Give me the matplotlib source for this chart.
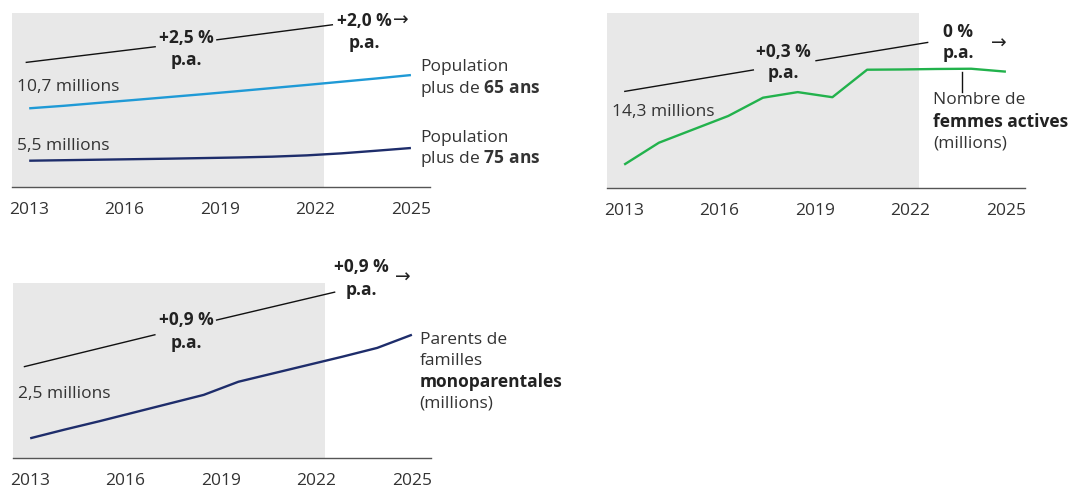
import numpy as np
import matplotlib
matplotlib.use("Agg")
from matplotlib import pyplot as plt

plt.rcParams['font.family'] = ['Open Sans', 'DejaVu Sans']
plt.rcParams['mathtext.fontset'] = 'custom'
plt.rcParams['mathtext.rm'] = 'Open Sans'
plt.rcParams['mathtext.bf'] = 'Open Sans:bold'

# donnees (12 points de 2013 a 2025)
tick_years = [2013, 2016, 2019, 2022, 2025]
tick_labels = ['2013', '2016', '2019', '2022', '2025']

pop_65 = [10.7, 10.95, 11.24, 11.52, 11.81, 12.1, 12.4, 12.71, 13.02, 13.34, 13.66, 14.0]
pop_75 = [5.5, 5.55, 5.6, 5.65, 5.7, 5.76, 5.82, 5.9, 6.03, 6.23, 6.49, 6.76]
femmes_actives = [14.300, 14.390, 14.445, 14.500, 14.575, 14.598, 14.577, 14.690,
                  14.691, 14.693, 14.694, 14.682]
monoparentales = [2.500, 2.522, 2.543, 2.565, 2.587, 2.609, 2.642, 2.663, 2.684,
                  2.705, 2.727, 2.760]

GRAY_BG = '#e8e8e8'
TXT = '#333333'
FS = 12.5
XLIM = (2012.46, 2025.6)
HIST_END = 2022.27


def setup(ax, ylim):
    ax.set_xlim(*XLIM)
    ax.set_ylim(*ylim)
    ax.axvspan(XLIM[0], HIST_END, color=GRAY_BG, lw=0, zorder=0)
    for s in ['top', 'right', 'left']:
        ax.spines[s].set_visible(False)
    ax.spines['bottom'].set_color('#555555')
    ax.spines['bottom'].set_linewidth(1.0)
    ax.set_yticks([])
    ax.set_xticks(tick_years, tick_labels)
    ax.tick_params(axis='x', length=0, pad=10, labelsize=FS, labelcolor=TXT)
    ax.patch.set_alpha(0)


def trend(ax, seg1, seg2, lab1, lab2, arrow):
    ax.plot([seg1[0], seg1[2]], [seg1[1], seg1[3]], color='#111111', lw=1.0, clip_on=False)
    ax.plot([seg2[0], seg2[2]], [seg2[1], seg2[3]], color='#111111', lw=1.0, clip_on=False)
    for (txt, x, y1, y2) in [lab1, lab2]:
        ax.text(x, y1, txt, ha='center', va='center', fontsize=FS, fontweight='bold',
                color='#222222', clip_on=False)
        ax.text(x, y2, 'p.a.', ha='center', va='center', fontsize=FS, fontweight='bold',
                color='#222222', clip_on=False)
    ax.text(arrow[0], arrow[1], '\u2192', ha='center', va='center', fontsize=FS + 1,
            color='#222222', clip_on=False)


fig = plt.figure(figsize=(10.71, 4.89), dpi=100)
xs = np.linspace(2013, 2025, len(pop_65))

# panneau 1 : population agee
ax1 = fig.add_axes([12 / 1071, 1 - 188 / 489, 418 / 1071, 174 / 489])
setup(ax1, (2.89, 20.16))
ax1.plot(xs, pop_65, color='#1f9ad6', lw=1.7, solid_capstyle='butt')
ax1.plot(xs, pop_75, color='#1e2d6b', lw=1.7, solid_capstyle='butt')
trend(ax1, (2012.91, 15.26, 2016.96, 16.81), (2018.90, 17.50, 2022.53, 18.99),
      ('+2,5 %', 2017.93, 17.77, 15.59), ('+2,0 %', 2023.54, 19.48, 17.30), (2024.69, 19.5))
ax1.text(2012.61, 12.88, '10,7 millions', ha='left', va='center', fontsize=FS, color=TXT)
ax1.text(2012.61, 7.08, '5,5 millions', ha='left', va='center', fontsize=FS, color=TXT)
ax1.text(2025.28, 14.86, 'Population', ha='left', va='center', fontsize=FS, color=TXT, clip_on=False)
ax1.text(2025.28, 12.78, r'plus de $\mathbf{65\ ans}$', ha='left', va='center', fontsize=FS,
         color=TXT, clip_on=False)
ax1.text(2025.28, 7.88, 'Population', ha='left', va='center', fontsize=FS, color=TXT, clip_on=False)
ax1.text(2025.28, 5.83, r'plus de $\mathbf{75\ ans}$', ha='left', va='center', fontsize=FS,
         color=TXT, clip_on=False)

# panneau 2 : femmes actives
ax2 = fig.add_axes([607 / 1071, 1 - 189 / 489, 418 / 1071, 175 / 489])
setup(ax2, (14.204, 14.923))
ax2.plot(xs, femmes_actives, color='#22b24c', lw=1.7, solid_capstyle='butt')
trend(ax2, (2013.02, 14.601, 2017.06, 14.689), (2019.03, 14.727, 2022.54, 14.802),
      ('+0,3 %', 2018.0, 14.766, 14.682), ('0 %', 2023.5, 14.850, 14.764), (2024.79, 14.800))
ax2.text(2012.63, 14.519, '14,3 millions', ha='left', va='center', fontsize=FS, color=TXT)
ax2.plot([2023.63, 2023.63], [14.682, 14.597], color='#111111', lw=1.0)
ax2.text(2022.71, 14.570, 'Nombre de', ha='left', va='center', fontsize=FS, color=TXT, clip_on=False)
ax2.text(2022.71, 14.481, 'femmes actives', ha='left', va='center', fontsize=FS,
         fontweight='bold', color='#222222', clip_on=False)
ax2.text(2022.71, 14.392, '(millions)', ha='left', va='center', fontsize=FS, color=TXT, clip_on=False)

# panneau 3 : familles monoparentales
ax3 = fig.add_axes([13 / 1071, 1 - 459 / 489, 418 / 1071, 175 / 489])
setup(ax3, (2.4505, 2.890))
ax3.plot(xs, monoparentales, color='#1e2d6b', lw=1.7, solid_capstyle='butt')
trend(ax3, (2012.82, 2.680, 2016.92, 2.760), (2018.86, 2.797, 2022.57, 2.867),
      ('+0,9 %', 2017.92, 2.800, 2.741), ('+0,9 %', 2023.41, 2.932, 2.875), (2024.71, 2.905))
ax3.text(2012.63, 2.614, '2,5 millions', ha='left', va='center', fontsize=FS, color=TXT)
ax3.text(2025.24, 2.749, 'Parents de', ha='left', va='center', fontsize=FS, color=TXT, clip_on=False)
ax3.text(2025.24, 2.697, 'familles', ha='left', va='center', fontsize=FS, color=TXT, clip_on=False)
ax3.text(2025.24, 2.644, 'monoparentales', ha='left', va='center', fontsize=FS,
         fontweight='bold', color='#222222', clip_on=False)
ax3.text(2025.24, 2.591, '(millions)', ha='left', va='center', fontsize=FS, color=TXT, clip_on=False)

fig.savefig('out.png', dpi=100)
